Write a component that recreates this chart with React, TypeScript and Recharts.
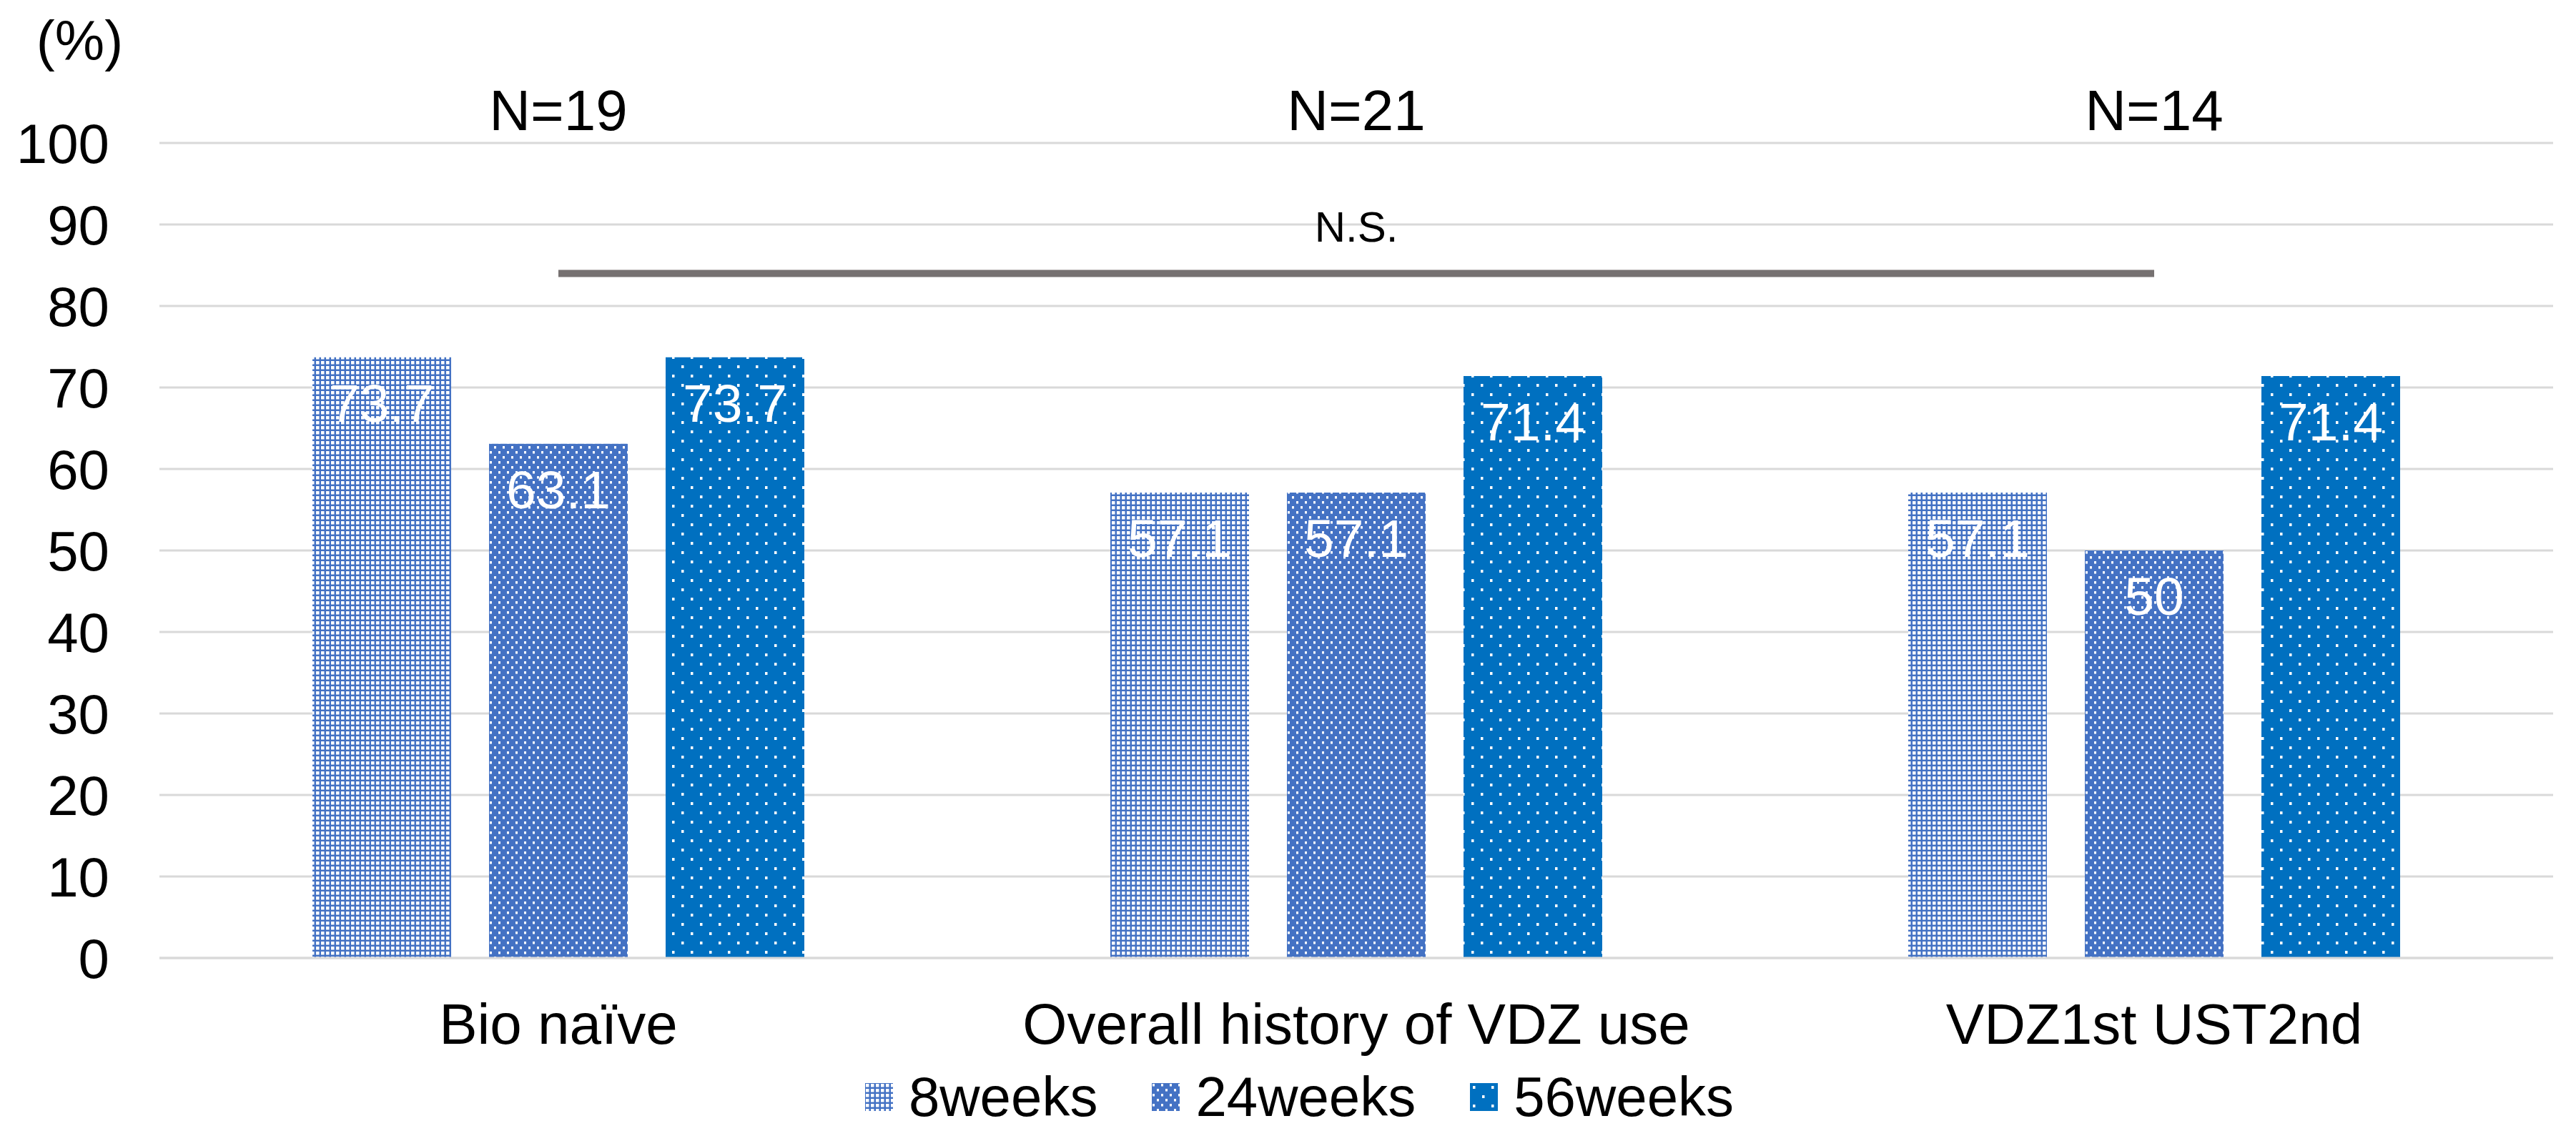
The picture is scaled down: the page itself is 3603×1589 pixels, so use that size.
import React from 'react';
import {
  BarChart, Bar, XAxis, YAxis, CartesianGrid, Legend, LabelList, ReferenceLine
} from 'recharts';

// values
const groups = ['Bio naïve', 'Overall history of VDZ use', 'VDZ1st UST2nd'];
const nLabels = ['N=19', 'N=21', 'N=14'];
const weeks8 = [73.7, 57.1, 57.1];
const weeks24 = [63.1, 57.1, 50];
const weeks56 = [73.7, 71.4, 71.4];
const yTicks = [0, 10, 20, 30, 40, 50, 60, 70, 80, 90, 100];
const nsLevel = 84;

const data = groups.map((group, i) => ({
  group,
  n: nLabels[i],
  w8: weeks8[i],
  w24: weeks24[i],
  w56: weeks56[i],
}));

const series = [
  { key: 'w8', name: '8weeks', fill: 'url(#pat8)' },
  { key: 'w24', name: '24weeks', fill: 'url(#pat24)' },
  { key: 'w56', name: '56weeks', fill: 'url(#pat56)' },
];

const FONT = '"Liberation Sans", Arial, sans-serif';

const Patterns = () => (
  <svg width={0} height={0} style={{ position: 'absolute' }}>
    <defs>
      <pattern id="pat8" width={7} height={7} patternUnits="userSpaceOnUse">
        <rect width={7} height={7} fill="#4472C4" />
        <rect x={1} y={1} width={4.5} height={4.5} fill="#fff" />
      </pattern>
      <pattern id="pat24" width={12} height={14} patternUnits="userSpaceOnUse">
        <rect width={12} height={14} fill="#4472C4" />
        <rect x={1} y={1} width={3} height={3.5} fill="#fff" />
        <rect x={7} y={8} width={3} height={3.5} fill="#fff" />
      </pattern>
      <pattern id="pat56" width={26} height={26} patternUnits="userSpaceOnUse">
        <rect width={26} height={26} fill="#0070C0" />
        <rect x={4} y={4} width={3.5} height={4} fill="#fff" />
        <rect x={17} y={17} width={3.5} height={4} fill="#fff" />
      </pattern>
    </defs>
  </svg>
);

const renderLegend = () => (
  <div
    style={{
      display: 'flex', justifyContent: 'center', alignItems: 'center',
      height: 70, transform: 'translateX(16px)', fontSize: 78, fontFamily: FONT, color: '#000',
    }}
  >
    {series.map((s, i) => (
      <div key={s.key} style={{ display: 'flex', alignItems: 'center', marginLeft: i ? 76 : 0 }}>
        <svg width={39} height={39} style={{ marginRight: 22 }}>
          <rect width={39} height={39} fill={s.fill} />
        </svg>
        <span style={{ lineHeight: '70px' }}>{s.name}</span>
      </div>
    ))}
  </div>
);

export default function App() {
  return (
    <div style={{ position: 'absolute', left: 0, top: 0, fontFamily: FONT, background: '#fff' }}>
      <Patterns />
      <BarChart
        width={3603}
        height={1589}
        data={data}
        margin={{ top: 0, right: 32, bottom: 20, left: 0 }}
        barSize={194}
        barGap={53}
      >
        <CartesianGrid vertical={false} stroke="#D9D9D9" strokeWidth={3} />
        <XAxis
          dataKey="group"
          height={159}
          axisLine={{ stroke: '#D9D9D9', strokeWidth: 3 }}
          tickLine={false}
          tickSize={0}
          tickMargin={63}
          tick={{ fontSize: 80, fill: '#000', fontFamily: FONT }}
        />
        <XAxis
          xAxisId="top"
          orientation="top"
          dataKey="n"
          height={200}
          axisLine={false}
          tickLine={false}
          tickSize={0}
          tickMargin={18}
          tick={{ fontSize: 80, fill: '#000', fontFamily: FONT }}
        />
        <YAxis
          width={223}
          domain={[0, 100]}
          ticks={yTicks}
          axisLine={false}
          tickLine={false}
          tickSize={0}
          tickMargin={70}
          tick={{ fontSize: 78, fill: '#000', fontFamily: FONT }}
          label={{ value: '(%)', position: 'top', offset: 116, fontSize: 78, fill: '#000', fontFamily: FONT }}
        />
        <Legend verticalAlign="bottom" content={renderLegend} wrapperStyle={{ left: 0, width: 3603 }} />
        {series.map((s) => (
          <Bar key={s.key} dataKey={s.key} name={s.name} fill={s.fill} isAnimationActive={false}>
            <LabelList
              dataKey={s.key}
              position="insideTop"
              offset={37}
              fill="#fff"
              fontSize={75}
              fontFamily={FONT}
            />
          </Bar>
        ))}
        <ReferenceLine
          segment={[{ x: groups[0], y: nsLevel }, { x: groups[2], y: nsLevel }]}
          stroke="#767171"
          strokeWidth={10}
          ifOverflow="visible"
          label={{ value: 'N.S.', position: 'top', offset: 44, fontSize: 60, fill: '#000', fontFamily: FONT }}
        />
      </BarChart>
    </div>
  );
}
